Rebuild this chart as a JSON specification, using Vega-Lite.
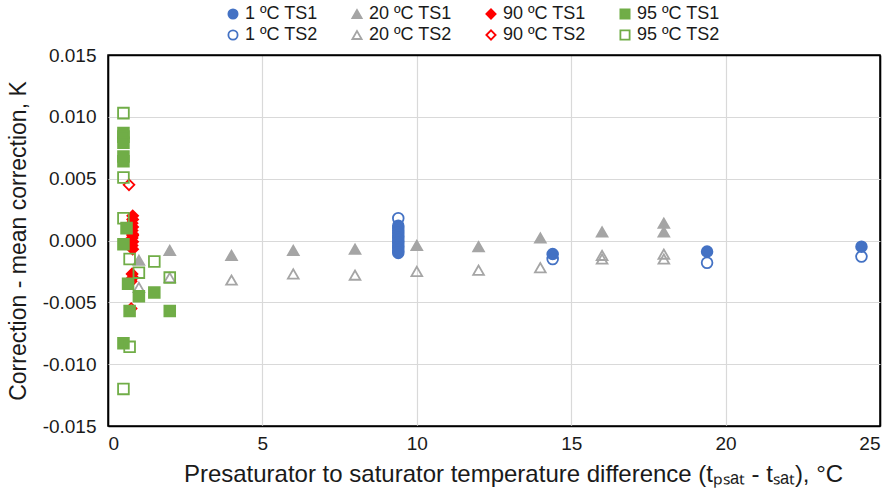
{
  "$schema": "https://vega.github.io/schema/vega-lite/v6.json",
  "width": 772,
  "height": 371,
  "autosize": "none",
  "padding": {"left": 108, "top": 55, "right": 16, "bottom": 68},
  "background": "white",
  "config": {
    "font": "Liberation Sans",
    "view": {"stroke": "#000000", "strokeWidth": 1.5},
    "axis": {"grid": true, "gridWidth": 1.2, "domain": false, "ticks": false, "labelFont": "Liberation Sans", "labelFontSize": 19, "labelColor": "#1a1a1a", "titleFont": "Liberation Sans", "titleFontSize": 23, "titleFontWeight": "normal", "titleColor": "#1a1a1a"}
  },
  "data": {"values": [
    {"x": 9.4, "y": 0.0012, "s": "1 ºC TS1"},
    {"x": 9.4, "y": 0.001, "s": "1 ºC TS1"},
    {"x": 9.4, "y": 0.0008, "s": "1 ºC TS1"},
    {"x": 9.4, "y": 0.0006, "s": "1 ºC TS1"},
    {"x": 9.4, "y": 0.0004, "s": "1 ºC TS1"},
    {"x": 9.4, "y": 0.0002, "s": "1 ºC TS1"},
    {"x": 9.4, "y": 0.0, "s": "1 ºC TS1"},
    {"x": 9.4, "y": -0.0002, "s": "1 ºC TS1"},
    {"x": 9.4, "y": -0.0004, "s": "1 ºC TS1"},
    {"x": 9.4, "y": -0.0006, "s": "1 ºC TS1"},
    {"x": 9.4, "y": -0.0008, "s": "1 ºC TS1"},
    {"x": 9.4, "y": -0.001, "s": "1 ºC TS1"},
    {"x": 14.4, "y": -0.0011, "s": "1 ºC TS1"},
    {"x": 19.4, "y": -0.0009, "s": "1 ºC TS1"},
    {"x": 24.4, "y": -0.0005, "s": "1 ºC TS1"},
    {"x": 9.4, "y": 0.0018, "s": "1 ºC TS2"},
    {"x": 14.4, "y": -0.0015, "s": "1 ºC TS2"},
    {"x": 19.4, "y": -0.0018, "s": "1 ºC TS2"},
    {"x": 24.4, "y": -0.0013, "s": "1 ºC TS2"},
    {"x": 1.0, "y": -0.0016, "s": "20 ºC TS1"},
    {"x": 2.0, "y": -0.0008, "s": "20 ºC TS1"},
    {"x": 4.0, "y": -0.0012, "s": "20 ºC TS1"},
    {"x": 6.0, "y": -0.0008, "s": "20 ºC TS1"},
    {"x": 8.0, "y": -0.0007, "s": "20 ºC TS1"},
    {"x": 10.0, "y": -0.0004, "s": "20 ºC TS1"},
    {"x": 12.0, "y": -0.0005, "s": "20 ºC TS1"},
    {"x": 14.0, "y": 0.0002, "s": "20 ºC TS1"},
    {"x": 16.0, "y": 0.0007, "s": "20 ºC TS1"},
    {"x": 18.0, "y": 0.0014, "s": "20 ºC TS1"},
    {"x": 18.0, "y": 0.0007, "s": "20 ºC TS1"},
    {"x": 1.0, "y": -0.0038, "s": "20 ºC TS2"},
    {"x": 2.0, "y": -0.003, "s": "20 ºC TS2"},
    {"x": 4.0, "y": -0.0032, "s": "20 ºC TS2"},
    {"x": 6.0, "y": -0.0027, "s": "20 ºC TS2"},
    {"x": 8.0, "y": -0.0028, "s": "20 ºC TS2"},
    {"x": 10.0, "y": -0.0025, "s": "20 ºC TS2"},
    {"x": 12.0, "y": -0.0024, "s": "20 ºC TS2"},
    {"x": 14.0, "y": -0.0022, "s": "20 ºC TS2"},
    {"x": 16.0, "y": -0.0012, "s": "20 ºC TS2"},
    {"x": 16.0, "y": -0.0015, "s": "20 ºC TS2"},
    {"x": 18.0, "y": -0.0011, "s": "20 ºC TS2"},
    {"x": 18.0, "y": -0.0015, "s": "20 ºC TS2"},
    {"x": 0.8, "y": 0.002, "s": "90 ºC TS1"},
    {"x": 0.8, "y": 0.0017, "s": "90 ºC TS1"},
    {"x": 0.78, "y": 0.0014, "s": "90 ºC TS1"},
    {"x": 0.8, "y": 0.0011, "s": "90 ºC TS1"},
    {"x": 0.78, "y": 0.0008, "s": "90 ºC TS1"},
    {"x": 0.8, "y": 0.0005, "s": "90 ºC TS1"},
    {"x": 0.78, "y": 0.0002, "s": "90 ºC TS1"},
    {"x": 0.8, "y": -0.0001, "s": "90 ºC TS1"},
    {"x": 0.78, "y": -0.0004, "s": "90 ºC TS1"},
    {"x": 0.8, "y": -0.0007, "s": "90 ºC TS1"},
    {"x": 0.78, "y": -0.0027, "s": "90 ºC TS1"},
    {"x": 0.8, "y": -0.003, "s": "90 ºC TS1"},
    {"x": 0.68, "y": 0.0045, "s": "90 ºC TS2"},
    {"x": 0.8, "y": 0.0004, "s": "90 ºC TS2"},
    {"x": 0.75, "y": -0.0033, "s": "90 ºC TS2"},
    {"x": 0.75, "y": -0.0055, "s": "90 ºC TS2"},
    {"x": 0.5, "y": 0.0087, "s": "95 ºC TS1"},
    {"x": 0.5, "y": 0.0084, "s": "95 ºC TS1"},
    {"x": 0.5, "y": 0.0079, "s": "95 ºC TS1"},
    {"x": 0.5, "y": 0.0068, "s": "95 ºC TS1"},
    {"x": 0.5, "y": 0.0064, "s": "95 ºC TS1"},
    {"x": 0.6, "y": 0.001, "s": "95 ºC TS1"},
    {"x": 0.5, "y": -0.0003, "s": "95 ºC TS1"},
    {"x": 0.65, "y": -0.0035, "s": "95 ºC TS1"},
    {"x": 0.7, "y": -0.0057, "s": "95 ºC TS1"},
    {"x": 1.0, "y": -0.0045, "s": "95 ºC TS1"},
    {"x": 1.5, "y": -0.0042, "s": "95 ºC TS1"},
    {"x": 2.0, "y": -0.0057, "s": "95 ºC TS1"},
    {"x": 0.5, "y": -0.0083, "s": "95 ºC TS1"},
    {"x": 0.5, "y": 0.0103, "s": "95 ºC TS2"},
    {"x": 0.5, "y": 0.0051, "s": "95 ºC TS2"},
    {"x": 0.5, "y": 0.0018, "s": "95 ºC TS2"},
    {"x": 0.7, "y": -0.0015, "s": "95 ºC TS2"},
    {"x": 1.0, "y": -0.0026, "s": "95 ºC TS2"},
    {"x": 1.5, "y": -0.0017, "s": "95 ºC TS2"},
    {"x": 2.0, "y": -0.003, "s": "95 ºC TS2"},
    {"x": 0.7, "y": -0.0086, "s": "95 ºC TS2"},
    {"x": 0.5, "y": -0.012, "s": "95 ºC TS2"}
  ]},
  "mark": {"type": "point", "size": 115, "strokeWidth": 1.8, "opacity": 1},
  "encoding": {
    "x": {"field": "x", "type": "quantitative",
      "scale": {"domain": [0, 25], "nice": false, "zero": false},
      "axis": {"values": [0, 5, 10, 15, 20, 25], "labelPadding": 8, "titlePadding": 9, "titleFontSize": 24, "titleX": 405, "titleAlign": "center",
        "gridColor": {"condition": {"test": "datum.value == 0 || datum.value == 25", "value": "#000000"}, "value": "#D9D9D9"},
        "gridWidth": {"condition": {"test": "datum.value == 0 || datum.value == 25", "value": 1.6}, "value": 1.2},
        "title": "Presaturator to saturator temperature difference (tₚₛₐₜ - tₛₐₜ), °C"}},
    "y": {"field": "y", "type": "quantitative",
      "scale": {"domain": [-0.015, 0.015], "nice": false, "zero": false},
      "axis": {"values": [-0.015, -0.01, -0.005, 0, 0.005, 0.01, 0.015], "labelPadding": 12, "titlePadding": 12,
        "gridColor": {"condition": {"test": "abs(datum.value) > 0.0149", "value": "#000000"}, "value": "#D9D9D9"},
        "gridWidth": {"condition": {"test": "abs(datum.value) > 0.0149", "value": 1.6}, "value": 1.2},
        "labelExpr": "replace(format(datum.value, '.3f'), '−', '-')",
        "title": "Correction - mean correction, K"}},
    "shape": {"field": "s", "type": "nominal",
      "scale": {"domain": ["1 ºC TS1", "1 ºC TS2", "20 ºC TS1", "20 ºC TS2", "90 ºC TS1", "90 ºC TS2", "95 ºC TS1", "95 ºC TS2"],
        "range": ["circle", "circle", "triangle-up", "triangle-up", "diamond", "diamond", "square", "square"]},
      "legend": {"title": null, "orient": "none", "legendX": 116, "legendY": -50, "columns": 4, "columnPadding": 30, "rowPadding": 3,
        "labelFont": "Liberation Sans", "labelFontSize": 18, "labelColor": "#1a1a1a", "symbolSize": 85, "symbolStrokeWidth": 1.8, "labelOffset": 3}},
    "stroke": {"field": "s", "type": "nominal",
      "scale": {"domain": ["1 ºC TS1", "1 ºC TS2", "20 ºC TS1", "20 ºC TS2", "90 ºC TS1", "90 ºC TS2", "95 ºC TS1", "95 ºC TS2"],
        "range": ["#4472C4", "#4472C4", "#A5A5A5", "#A5A5A5", "#FF0000", "#FF0000", "#70AD47", "#70AD47"]}},
    "fill": {"field": "s", "type": "nominal",
      "scale": {"domain": ["1 ºC TS1", "1 ºC TS2", "20 ºC TS1", "20 ºC TS2", "90 ºC TS1", "90 ºC TS2", "95 ºC TS1", "95 ºC TS2"],
        "range": ["#4472C4", "transparent", "#A5A5A5", "transparent", "#FF0000", "transparent", "#70AD47", "transparent"]}}
  }
}
